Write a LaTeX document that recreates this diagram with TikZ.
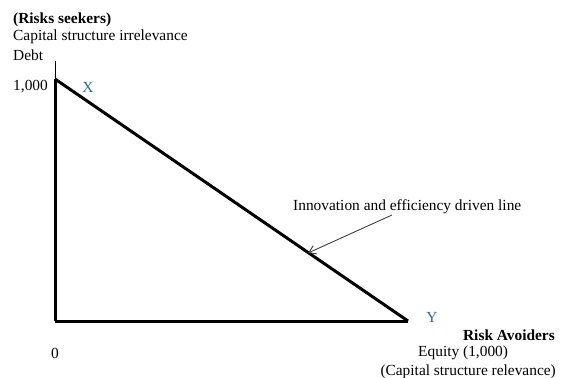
\documentclass[tikz,border=0pt]{standalone}
\usepackage{fontspec}
\setmainfont{Liberation Serif}
\usetikzlibrary{arrows.meta}
\definecolor{letterblue}{RGB}{40,110,160}
\tikzset{
  lbl/.style={inner sep=0pt, font=\fontsize{15.4}{18}\selectfont},
  pt/.style={lbl, text=letterblue},
  axis/.style={black, line width=3pt}
}
\begin{document}
\begin{tikzpicture}[x=1pt,y=-1pt]
                \useasboundingbox (0,0) rectangle (563,378);
                \coordinate (top) at (55,61);
                \coordinate (A) at (55,79);
                \coordinate (O) at (55,321);
                \coordinate (B) at (408,321);
                \coordinate (tail) at (392,215);
                \coordinate (tip) at (308,253);

                \draw [line width=1pt] (top) -- (A);
                \draw [axis] (A) -- (O);
                \draw [axis] (O) -- (B);
                \draw [axis] (A) -- (B);
                \draw [-{Straight Barb[length=7pt,width=9pt]}, line width=0.9pt, black!75] (tail) -- (tip);

                \node [lbl, anchor=west, font=\fontsize{15.4}{18}\selectfont\bfseries] (seek) at (13,20) {(Risks seekers)};
                \node [lbl, anchor=west] (irr) at (13,37) {Capital structure irrelevance};
                \node [lbl, anchor=west] (debt) at (13,55) {Debt};
                \node [lbl, anchor=west] (dmax) at (13,87) {1,000};
                \node [pt] (X) at (88,87) {X};
                \node [lbl] (zero) at (55,353) {0};
                \node [pt] (Y) at (432,317) {Y};
                \node [lbl, anchor=east, font=\fontsize{15.4}{18}\selectfont\bfseries] (avoid) at (555,335) {Risk Avoiders};
                \node [lbl, anchor=west] (eq) at (418,353) {Equity (1,000)};
                \node [lbl, anchor=east] (rel) at (556,372) {(Capital structure relevance)};
                \node [lbl, anchor=west] (line) at (293,207) {Innovation and efficiency driven line};
            \end{tikzpicture}
\end{document}
